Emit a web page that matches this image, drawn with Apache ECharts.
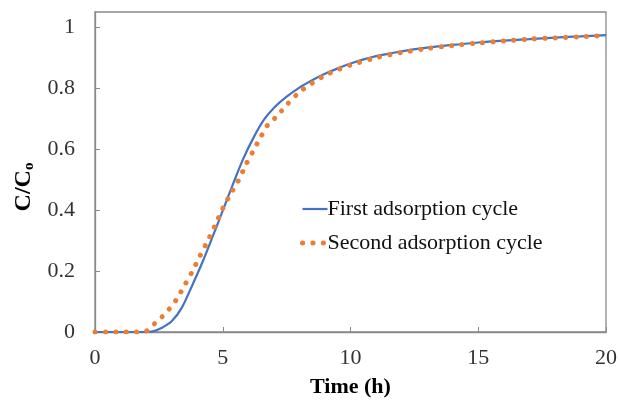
<!DOCTYPE html>
<html>
<head>
<meta charset="utf-8">
<script src="https://cdn.jsdelivr.net/npm/echarts@6/dist/echarts.min.js"></script>
<style>html,body{margin:0;padding:0;background:#fff;}#c{width:620px;height:403px;}</style>
</head>
<body>
<div id="c"></div>
<script>
var seriesNames = ['First adsorption cycle', 'Second adsorption cycle'];
var firstTime = [0, 0.5, 1, 1.5, 2, 2.3, 2.6, 3, 3.4, 3.8, 4.2, 4.6, 5, 5.4, 5.8, 6.2, 6.6, 7, 7.5, 8, 8.5, 9, 9.5, 10, 11, 12, 13, 14, 15, 16, 17, 18, 19, 20];
var firstCC = [0, 0, 0, 0, 0, 0.003, 0.013, 0.035, 0.08, 0.152, 0.228, 0.312, 0.398, 0.485, 0.568, 0.637, 0.695, 0.735, 0.772, 0.802, 0.826, 0.847, 0.865, 0.881, 0.905, 0.921, 0.933, 0.942, 0.95, 0.956, 0.961, 0.966, 0.97, 0.974];
var secondTime = [0, 0.5, 1, 1.5, 2, 2.3, 2.6, 2.9, 3.2, 3.5, 3.8, 4.1, 4.4, 4.7, 5, 5.3, 5.6, 5.9, 6.2, 6.5, 6.8, 7.1, 7.5, 8, 8.5, 9, 9.5, 10, 11, 12, 13, 14, 15, 16, 17, 18, 19, 20];
var secondCC = [0, 0, 0, 0, 0.003, 0.025, 0.048, 0.075, 0.108, 0.152, 0.197, 0.248, 0.297, 0.35, 0.405, 0.452, 0.495, 0.548, 0.595, 0.642, 0.684, 0.706, 0.745, 0.787, 0.817, 0.842, 0.861, 0.876, 0.9, 0.917, 0.93, 0.94, 0.948, 0.955, 0.961, 0.965, 0.969, 0.973];

function pairs(xs, ys) { return xs.map(function (x, i) { return [x, ys[i]]; }); }

var chart = echarts.init(document.getElementById('c'), null, {renderer: 'canvas'});
var serif = '"Liberation Serif", "Times New Roman", serif';
var dotted = {color: '#ED7D31', width: 5, type: [0.1, 10.3], cap: 'round'};
var solid = {color: '#4472C4', width: 2.2};
chart.setOption({
  animation: false,
  backgroundColor: '#ffffff',
  textStyle: {fontFamily: serif},
  grid: {left: 95, right: 12, top: 12, bottom: 67, show: true, borderColor: '#898989', borderWidth: 1.3},
  legend: {
    orient: 'vertical', left: 295, top: 193, itemWidth: 25, itemHeight: 14, itemGap: 12,
    itemStyle: {opacity: 0},
    data: [
      {name: seriesNames[0], lineStyle: solid},
      {name: seriesNames[1], lineStyle: dotted}
    ],
    textStyle: {fontFamily: serif, fontSize: 22, color: '#111', padding: [0, 0, 0, -5]}
  },
  xAxis: {
    type: 'value', min: 0, max: 20, interval: 5,
    name: 'Time (h)', nameLocation: 'middle', nameGap: 44,
    nameTextStyle: {fontFamily: serif, fontSize: 22, fontWeight: 'bold', color: '#000'},
    axisLine: {show: true, lineStyle: {color: '#898989', width: 1.3}},
    axisTick: {show: true, inside: true, length: 5, lineStyle: {color: '#898989'}},
    axisLabel: {fontFamily: serif, fontSize: 22, color: '#333', margin: 15},
    splitLine: {show: false}
  },
  yAxis: {
    type: 'value', min: 0, max: 1.05, interval: 0.2,
    name: '{a|C/C}{b|o}', nameLocation: 'middle', nameGap: 54, nameRotate: 90,
    nameTextStyle: {
      padding: [0, 30, 0, 0],
      rich: {
        a: {fontFamily: serif, fontSize: 24, fontWeight: 'bold', color: '#000'},
        b: {fontFamily: serif, fontSize: 15, fontWeight: 'bold', color: '#000', padding: [10, 0, 0, 0]}
      }
    },
    axisLine: {show: true, lineStyle: {color: '#898989', width: 1.3}},
    axisTick: {show: true, inside: true, length: 5, lineStyle: {color: '#898989'}},
    axisLabel: {fontFamily: serif, fontSize: 22, color: '#333', margin: 20, showMaxLabel: false},
    splitLine: {show: false}
  },
  series: [
    {
      name: seriesNames[0], type: 'line', symbol: 'none', smooth: 0.3,
      data: pairs(firstTime, firstCC),
      lineStyle: solid,
      itemStyle: {color: '#4472C4'}
    },
    {
      name: seriesNames[1], type: 'line', symbol: 'none', smooth: 0.3,
      data: pairs(secondTime, secondCC),
      lineStyle: dotted,
      itemStyle: {color: '#ED7D31'}
    }
  ]
});
</script>
</body>
</html>
